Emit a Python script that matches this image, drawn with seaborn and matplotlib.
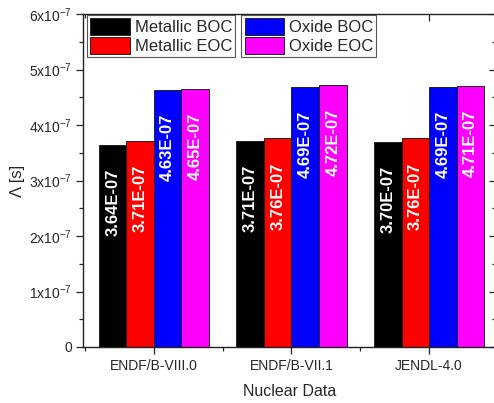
import numpy as np
import pandas as pd
import matplotlib
matplotlib.use('Agg')
import matplotlib.pyplot as plt
import seaborn as sns
from matplotlib.ticker import FixedLocator, MultipleLocator, FuncFormatter

sns.set_style('ticks')
plt.rcParams['font.family'] = ['Liberation Sans', 'DejaVu Sans']
plt.rcParams['mathtext.fontset'] = 'custom'
plt.rcParams['mathtext.rm'] = 'Liberation Sans'
plt.rcParams['mathtext.it'] = 'Liberation Sans:italic'

# data
libraries = ['ENDF/B-VIII.0', 'ENDF/B-VII.1', 'JENDL-4.0']
cases = ['Metallic BOC', 'Metallic EOC', 'Oxide BOC', 'Oxide EOC']
metallic_boc = [3.64e-7, 3.71e-7, 3.70e-7]
metallic_eoc = [3.71e-7, 3.76e-7, 3.76e-7]
oxide_boc = [4.63e-7, 4.69e-7, 4.69e-7]
oxide_eoc = [4.65e-7, 4.72e-7, 4.71e-7]
colors = ['#000000', '#ff0000', '#0000ff', '#ff00ff']

df = pd.DataFrame({
    'library': libraries * 4,
    'case': np.repeat(cases, 3),
    'value': metallic_boc + metallic_eoc + oxide_boc + oxide_eoc,
})

XLIM = (-0.516, 2.487)
YLIM = (0, 6e-7)

fig = plt.figure(figsize=(4.94, 4.03), dpi=100)
ax = fig.add_axes([83 / 494, 56 / 403, 413 / 494, 333 / 403])

sns.barplot(data=df, x='library', y='value', hue='case', order=libraries,
            hue_order=cases, palette=colors, saturation=1, width=0.8,
            errorbar=None, edgecolor='#222222', linewidth=0.7, ax=ax)

# rotated value labels inside bars
for cont in ax.containers:
    for bar in cont:
        v = bar.get_height()
        ax.text(bar.get_x() + bar.get_width() / 2, v - 0.43e-7, f'{v / 1e-7:.2f}E-07',
                rotation=90, ha='center', va='top', color='white',
                fontsize=12, fontweight='bold')

ax.set_xlim(*XLIM)
ax.set_ylim(*YLIM)

def yfmt(v, pos):
    n = int(round(v / 1e-7))
    if n == 0:
        return '0'
    return r'$\mathregular{%dx10^{-7}}$' % n

ax.yaxis.set_major_locator(MultipleLocator(1e-7))
ax.yaxis.set_minor_locator(MultipleLocator(0.5e-7))
ax.yaxis.set_major_formatter(FuncFormatter(yfmt))
ax.xaxis.set_minor_locator(FixedLocator([-0.5, 0.5, 1.5, 2.5]))
ax.tick_params(axis='both', which='major', direction='out', length=5, width=0.9, labelsize=10)
ax.tick_params(axis='both', which='minor', direction='out', length=3, width=0.9)
ax.tick_params(axis='y', which='major', pad=3)

for s in ax.spines.values():
    s.set_linewidth(1.0)
    s.set_color('#222222')
# right spine sits just past the image edge in the original
ax.spines['right'].set_visible(False)
ax.patch.set_visible(False)

# inward ticks on the right and top, drawn below the legends
ax_r = ax.twinx()
ax_r.set_ylim(*YLIM)
ax_r.yaxis.set_major_locator(MultipleLocator(1e-7))
ax_r.yaxis.set_minor_locator(MultipleLocator(0.5e-7))
ax_r.tick_params(which='both', direction='in', labelright=False, width=0.9)
ax_r.tick_params(which='major', length=5)
ax_r.tick_params(which='minor', length=3)

ax_t = ax.twiny()
ax_t.set_xlim(*XLIM)
ax_t.xaxis.set_major_locator(FixedLocator([0, 1, 2]))
ax_t.xaxis.set_minor_locator(FixedLocator([-0.5, 0.5, 1.5, 2.5]))
ax_t.tick_params(which='both', direction='in', labeltop=False, width=0.9)
ax_t.tick_params(which='major', length=5)
ax_t.tick_params(which='minor', length=3)

for tw in (ax_r, ax_t):
    for s in tw.spines.values():
        s.set_visible(False)
    tw.set_zorder(ax.get_zorder() - 1)

ax.set_xlabel('Nuclear Data', fontsize=11.5, labelpad=8)
ax.set_ylabel('Λ [s]', fontsize=12, labelpad=3)

handles = [cont.patches[0] for cont in ax.containers]
ax.get_legend().remove()
leg_kw = dict(loc='upper left', fontsize=12, frameon=True, fancybox=False,
              framealpha=1, edgecolor='#555555', handlelength=2.35,
              handleheight=1.15, labelspacing=0.12, borderpad=0.2,
              handletextpad=0.3, borderaxespad=0)
leg1 = ax.legend(handles[:2], cases[:2], bbox_to_anchor=(0.01, 0.997), **leg_kw)
ax.add_artist(leg1)
leg2 = ax.legend(handles[2:], cases[2:], bbox_to_anchor=(0.383, 0.997), **leg_kw)
for leg in (leg1, leg2):
    leg.get_frame().set_linewidth(0.8)

fig.savefig('out.png', dpi=100)
